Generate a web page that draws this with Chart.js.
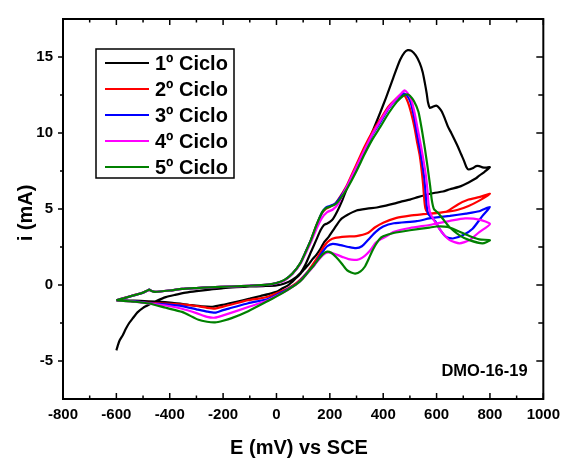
<!DOCTYPE html>
<html>
<head>
<meta charset="utf-8">
<script src="https://cdn.jsdelivr.net/npm/chart.js@4/dist/chart.umd.min.js"></script>
<style>
  html, body { margin: 0; padding: 0; background: #ffffff; }
  canvas { display: block; }
</style>
</head>
<body>
<canvas id="cv" width="567" height="458"></canvas>
<script>
// Axis ticks
const xTicks = [-800, -600, -400, -200, 0, 200, 400, 600, 800, 1000];
const xMinorTicks = [-700, -500, -300, -100, 100, 300, 500, 700, 900];
const yTicks = [-5, 0, 5, 10, 15];
const yMinorTicks = [-2.5, 2.5, 7.5, 12.5];

const cycleLabels = ['1º Ciclo', '2º Ciclo', '3º Ciclo', '4º Ciclo', '5º Ciclo'];
const cycleColors = ['#000000', '#ff0000', '#0000ff', '#ff00ff', '#008000'];
const sampleName = 'DMO-16-19';

// Cycle 1: anodic sweep -600 -> 800 mV, then cathodic sweep back to -600 mV
const c1E = [-600, -595, -588, -576, -565, -552, -539, -521, -500, -477, -450, -415, -380, -340, -300, -250, -200, -150, -100, -50,
  0, 30, 60, 90, 110, 130, 150, 165, 178, 190, 200, 212, 228, 245, 265, 300, 327, 360, 389, 410, 438, 463, 480, 492, 506, 522,
  537, 548, 556, 563, 568, 575, 585, 599, 610, 620, 632, 643, 655, 667, 680, 692, 702, 712, 720, 735, 748, 760, 772, 785, 800,
  780, 760, 748, 720, 686, 650, 624, 590, 562, 530, 500, 470, 440, 410, 376, 340, 300, 265, 240, 216, 195, 180, 166, 150, 135,
  120, 104, 85, 70, 55, 42, 20, 0, -30, -60, -100, -150, -200, -240, -280, -330, -390, -450, -510, -560, -600];
const c1I = [-4.3, -4.0, -3.65, -3.3, -2.9, -2.5, -2.2, -1.8, -1.5, -1.28, -1.05, -0.8, -0.65, -0.5, -0.4, -0.3, -0.2, -0.14, -0.1, -0.07,
  -0.03, 0.1, 0.35, 0.8, 1.4, 2.2, 3.0, 3.6, 3.95, 4.05, 4.15, 4.35, 4.85, 5.5, 6.4, 7.7, 8.72, 10.1, 11.35, 12.3, 13.65, 14.8, 15.3, 15.45, 15.4, 15.1,
  14.6, 14.0, 13.3, 12.6, 12.0, 11.65, 11.72, 11.8, 11.65, 11.4, 10.9, 10.4, 10.0, 9.57, 9.1, 8.6, 8.2, 7.75, 7.6, 7.68, 7.82, 7.82, 7.74, 7.72, 7.75,
  7.45, 7.2, 7.02, 6.75, 6.47, 6.3, 6.15, 6.05, 5.94, 5.78, 5.62, 5.5, 5.35, 5.22, 5.1, 5.02, 4.9, 4.6, 4.3, 3.7, 3.15, 2.85, 2.42, 2.0, 1.7,
  1.35, 1.03, 0.65, 0.4, 0.15, -0.04, -0.25, -0.45, -0.6, -0.72, -0.9, -1.1, -1.3, -1.43, -1.4, -1.3, -1.18, -1.1, -1.05, -1.02, -1.0];

// Cycle 2
const c2E = [-600, -570, -539, -502, -485, -477, -468, -455, -400, -354, -300, -250, -168, -100, -32, 0, 30, 60, 90, 110, 130, 150, 170, 185,
  200, 220, 240, 265, 300, 330, 360, 389, 420, 451, 465, 478, 492, 505, 518, 528, 537, 545, 550, 554, 558, 565, 575, 600, 640, 680, 720, 760, 800,
  760, 720, 680, 640, 600, 550, 500, 450, 400, 370, 340, 300, 260, 220, 200, 180, 160, 140, 120, 100, 80, 60, 40, 0, -32, -60, -106, -168,
  -200, -230, -260, -300, -354, -415, -477, -530, -600];
const c2I = [-1.0, -0.85, -0.69, -0.51, -0.38, -0.32, -0.4, -0.45, -0.36, -0.26, -0.2, -0.15, -0.1, -0.05, 0.02, 0.12, 0.32, 0.75, 1.45, 2.2, 3.0, 3.95, 4.7, 5.0,
  5.15, 5.35, 5.85, 6.6, 7.95, 9.1, 10.1, 10.9, 11.75, 12.3, 12.5, 12.5, 12.05, 11.3, 10.3, 9.3, 8.5, 7.4, 6.5, 5.6, 5.05, 4.8, 4.7, 4.72, 4.85, 5.3, 5.62, 5.78, 6.0,
  5.55, 5.2, 4.95, 4.82, 4.74, 4.66, 4.57, 4.42, 4.1, 3.8, 3.4, 3.22, 3.18, 3.1, 2.95, 2.6, 2.0, 1.45, 0.95, 0.55, 0.2, -0.05, -0.25, -0.55, -0.77, -0.88, -1.0, -1.28,
  -1.42, -1.55, -1.5, -1.38, -1.28, -1.22, -1.18, -1.08, -1.0];

// Cycle 3
const c3E = [-600, -570, -539, -502, -485, -477, -468, -455, -400, -354, -300, -250, -168, -100, -32, 0, 30, 60, 90, 110, 130, 150, 170, 185,
  200, 220, 240, 265, 300, 330, 360, 389, 420, 451, 475, 490, 503, 515, 526, 537, 546, 554, 559, 563, 568, 580, 595, 611, 636, 661, 698, 735, 772, 800,
  760, 710, 650, 600, 573, 525, 440, 400, 372, 345, 320, 298, 270, 240, 211, 190, 170, 143, 120, 100, 80, 60, 30, 0, -32, -106, -168,
  -200, -230, -260, -300, -354, -415, -477, -530, -600];
const c3I = [-1.0, -0.86, -0.7, -0.52, -0.38, -0.31, -0.4, -0.45, -0.36, -0.26, -0.2, -0.15, -0.1, -0.05, 0.02, 0.12, 0.32, 0.75, 1.45, 2.2, 3.0, 3.9, 4.75, 5.1,
  5.2, 5.35, 5.8, 6.5, 7.7, 8.8, 9.9, 10.7, 11.6, 12.25, 12.6, 12.45, 12.0, 11.1, 10.0, 9.0, 8.0, 7.0, 6.0, 5.2, 4.7, 4.45, 4.2, 3.7, 3.16, 3.06, 3.27, 3.7, 4.55, 5.13,
  4.85, 4.7, 4.55, 4.45, 4.38, 4.2, 4.06, 3.85, 3.5, 3.0, 2.55, 2.42, 2.5, 2.62, 2.71, 2.55, 2.1, 1.35, 0.9, 0.5, 0.15, -0.1, -0.4, -0.65, -0.92, -1.2, -1.5,
  -1.65, -1.82, -1.75, -1.6, -1.39, -1.28, -1.2, -1.08, -1.0];

// Cycle 4
const c4E = [-600, -570, -539, -502, -485, -477, -468, -455, -400, -354, -300, -250, -168, -100, -32, 0, 30, 60, 90, 110, 130, 150, 170, 190,
  210, 230, 250, 270, 300, 330, 360, 389, 420, 451, 470, 480, 490, 505, 518, 530, 541, 551, 560, 566, 570, 575, 581, 599, 624, 649, 686, 723, 760, 800,
  760, 707, 650, 600, 573, 500, 440, 412, 390, 372, 350, 331, 310, 291, 270, 251, 225, 197, 180, 160, 140, 120, 100, 80, 60, 30, 0, -32, -106, -168,
  -200, -230, -260, -300, -354, -415, -477, -530, -600];
const c4I = [-1.0, -0.86, -0.7, -0.52, -0.38, -0.31, -0.4, -0.45, -0.36, -0.26, -0.2, -0.15, -0.1, -0.05, 0.02, 0.12, 0.3, 0.72, 1.4, 2.1, 2.85, 3.7, 4.4, 4.8,
  4.95, 5.3, 6.0, 6.7, 7.8, 8.9, 9.95, 10.8, 11.65, 12.3, 12.65, 12.8, 12.65, 12.2, 11.3, 10.2, 9.2, 8.2, 7.2, 6.2, 5.3, 4.8, 4.55, 4.0, 3.38, 2.95, 2.74, 2.95, 3.48, 4.02,
  4.3, 4.38, 4.22, 4.05, 3.95, 3.75, 3.5, 3.2, 3.0, 2.78, 2.25, 1.92, 1.7, 1.65, 1.7, 1.82, 2.0, 2.14, 2.05, 1.7, 1.25, 0.85, 0.45, 0.12, -0.12, -0.45, -0.72, -1.0, -1.45, -1.82,
  -2.0, -2.15, -2.1, -1.85, -1.56, -1.35, -1.22, -1.1, -1.0];

// Cycle 5
const c5E = [-600, -570, -539, -502, -485, -477, -468, -455, -400, -354, -300, -250, -168, -100, -32, 0, 30, 60, 90, 110, 130, 150, 170, 185,
  200, 220, 240, 265, 300, 330, 360, 389, 420, 451, 475, 490, 500, 515, 532, 545, 556, 566, 576, 582, 590, 605, 624, 649, 686, 723, 772, 800,
  760, 720, 680, 640, 600, 573, 500, 439, 400, 385, 370, 358, 345, 331, 315, 295, 280, 264, 245, 224, 205, 190, 175, 160, 140, 120, 100, 80, 60, 30, 0,
  -32, -106, -168, -200, -230, -260, -292, -354, -415, -477, -530, -600];
const c5I = [-1.0, -0.86, -0.7, -0.52, -0.38, -0.3, -0.4, -0.45, -0.36, -0.26, -0.2, -0.15, -0.1, -0.05, 0.03, 0.13, 0.34, 0.76, 1.46, 2.2, 3.0, 3.95, 4.75, 5.05,
  5.15, 5.3, 5.7, 6.35, 7.5, 8.6, 9.6, 10.4, 11.3, 12.05, 12.45, 12.55, 12.45, 12.1, 11.4, 10.2, 9.0, 7.8, 6.5, 5.6, 5.0, 4.75, 4.34, 3.8, 3.27, 2.95, 2.74, 2.95,
  3.0, 3.25, 3.55, 3.82, 3.85, 3.78, 3.6, 3.42, 3.2, 3.0, 2.6, 2.2, 1.7, 1.2, 0.9, 0.75, 0.82, 0.98, 1.4, 1.82, 2.12, 2.2, 2.05, 1.75, 1.3, 0.88, 0.45, 0.12, -0.12, -0.45, -0.75,
  -1.05, -1.72, -2.18, -2.35, -2.46, -2.42, -2.29, -1.77, -1.5, -1.22, -1.1, -1.0];

const cyclesE = [c1E, c2E, c3E, c4E, c5E];
const cyclesI = [c1I, c2I, c3I, c4I, c5I];

const FONT = "'Liberation Sans', Arial, Helvetica, sans-serif";

// Frame, inward/outward tick marks, legend box and text annotations
const decorations = {
  id: 'decorations',
  afterDraw(chart) {
    const ctx = chart.ctx;
    const a = chart.chartArea;
    const xs = chart.scales.x, ys = chart.scales.y;
    ctx.save();
    ctx.strokeStyle = '#000';
    ctx.lineCap = 'butt';

    // tick marks
    ctx.lineWidth = 1.5;
    ctx.beginPath();
    const xMark = (v, len) => {
      const px = xs.getPixelForValue(v);
      ctx.moveTo(px, a.bottom); ctx.lineTo(px, a.bottom - len);
      ctx.moveTo(px, a.top); ctx.lineTo(px, a.top + len);
    };
    xTicks.forEach(v => xMark(v, 6));
    xMinorTicks.forEach(v => xMark(v, 3.5));
    const yMark = (v, lenL, lenR) => {
      const py = ys.getPixelForValue(v);
      ctx.moveTo(a.left, py); ctx.lineTo(a.left - lenL, py);
      ctx.moveTo(a.right, py); ctx.lineTo(a.right - lenR, py);
    };
    yTicks.forEach(v => yMark(v, 5, 7));
    yMinorTicks.forEach(v => yMark(v, 3, 5));
    ctx.stroke();

    // frame
    ctx.lineWidth = 2;
    ctx.strokeRect(a.left, a.top, a.right - a.left, a.bottom - a.top);

    // legend
    ctx.fillStyle = '#fff';
    ctx.fillRect(96, 49, 138, 129);
    ctx.lineWidth = 1.5;
    ctx.strokeRect(96, 49, 138, 129);
    ctx.font = 'bold 20px ' + FONT;
    ctx.textBaseline = 'middle';
    ctx.textAlign = 'left';
    cycleLabels.forEach((lab, k) => {
      const y = 63 + k * 26;
      ctx.strokeStyle = cycleColors[k];
      ctx.lineWidth = 2;
      ctx.beginPath();
      ctx.moveTo(105, y); ctx.lineTo(149, y);
      ctx.stroke();
      ctx.fillStyle = '#000';
      ctx.fillText(lab, 155, y + 1);
    });

    // sample tag
    ctx.font = 'bold 16.5px ' + FONT;
    ctx.textAlign = 'center';
    ctx.fillStyle = '#000';
    ctx.fillText(sampleName, 484.5, 371);

    // axis titles
    ctx.font = 'bold 20px ' + FONT;
    ctx.fillText('E (mV) vs SCE', 299, 448);
    ctx.save();
    ctx.translate(26, 213);
    ctx.rotate(-Math.PI / 2);
    ctx.fillText('i (mA)', 0, 0);
    ctx.restore();

    ctx.restore();
  }
};

const datasets = cycleLabels.map((lab, k) => ({
  label: lab,
  data: cyclesE[k].map((e, j) => ({ x: e, y: cyclesI[k][j] })),
  showLine: true,
  borderColor: cycleColors[k],
  backgroundColor: cycleColors[k],
  borderWidth: 2.2,
  pointRadius: 0,
  pointHoverRadius: 0,
  tension: 0.2,
  fill: false,
  order: cycleLabels.length - 1 - k
}));

const tickFont = { family: FONT, size: 15, weight: 'bold' };

new Chart(document.getElementById('cv'), {
  type: 'scatter',
  data: { datasets },
  options: {
    responsive: false,
    animation: false,
    devicePixelRatio: 1,
    layout: { padding: { left: 0, right: 19, top: 9, bottom: 0 } },
    plugins: { legend: { display: false }, tooltip: { enabled: false } },
    scales: {
      x: {
        type: 'linear',
        min: -800, max: 1000,
        afterBuildTicks: s => { s.ticks = xTicks.map(v => ({ value: v })); },
        afterFit: s => { s.height = 59; },
        grid: { display: false, drawTicks: false },
        border: { display: false },
        ticks: { font: tickFont, color: '#000', padding: 7, maxRotation: 0, autoSkip: false, callback: v => String(v) }
      },
      y: {
        type: 'linear',
        min: -7.5, max: 17.5,
        afterBuildTicks: s => { s.ticks = yTicks.map(v => ({ value: v })); },
        afterFit: s => { s.width = 63; },
        grid: { display: false, drawTicks: false },
        border: { display: false },
        ticks: { font: tickFont, color: '#000', padding: 10, autoSkip: false, callback: v => String(v) }
      }
    }
  },
  plugins: [decorations]
});
</script>
</body>
</html>
